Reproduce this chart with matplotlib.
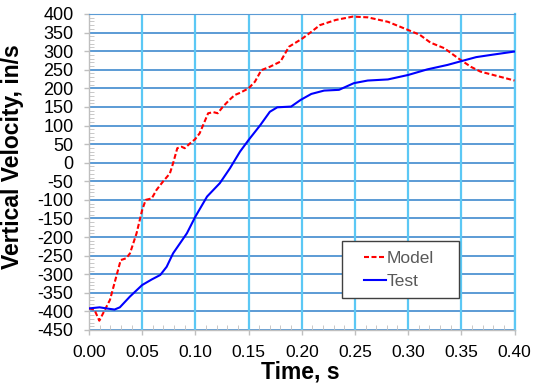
import matplotlib
matplotlib.use("Agg")
import matplotlib.pyplot as plt
from matplotlib.ticker import MultipleLocator
from matplotlib.patches import Rectangle

plt.rcParams['font.family'] = ['Liberation Sans', 'DejaVu Sans']

model_t = [0.000, 0.005, 0.0097, 0.0197, 0.0298, 0.035, 0.0385, 0.0447, 0.050, 0.0533, 0.059,
           0.0635, 0.0695, 0.076, 0.079, 0.083, 0.087, 0.090, 0.095, 0.0997, 0.104, 0.108,
           0.112, 0.117, 0.121, 0.126, 0.132, 0.137, 0.142, 0.150, 0.156, 0.162, 0.170,
           0.180, 0.188, 0.196, 0.201, 0.209, 0.217, 0.232, 0.248, 0.262, 0.281, 0.300,
           0.311, 0.321, 0.334, 0.347, 0.359, 0.368, 0.384, 0.400]
model_v = [-392, -395, -425, -369, -262, -257, -244, -190, -127, -100, -96,
           -73, -51, -29, -2, 39, 43, 39, 52, 63, 79, 106,
           133, 136, 133, 151, 169, 182, 188, 200, 218, 249, 258,
           272, 312, 326, 335, 352, 370, 384, 393, 391, 379, 357,
           344, 323, 308, 281, 258, 245, 233, 221]

test_t = [0.000, 0.010, 0.0165, 0.024, 0.029, 0.0385, 0.050, 0.059, 0.067, 0.073, 0.079,
          0.092, 0.100, 0.111, 0.123, 0.1325, 0.142, 0.150, 0.161, 0.170, 0.177, 0.190,
          0.199, 0.209, 0.221, 0.235, 0.249, 0.262, 0.281, 0.300, 0.318, 0.337, 0.351,
          0.364, 0.378, 0.400]
test_v = [-392, -389, -392, -395, -389, -360, -329, -314, -302, -280, -244,
          -190, -145, -91, -55, -15, 30, 61, 101, 137, 149, 151,
          169, 185, 194, 196, 214, 221, 224, 236, 251, 263, 274,
          284, 290, 299]

x_ticks = [0.00, 0.05, 0.10, 0.15, 0.20, 0.25, 0.30, 0.35, 0.40]
y_ticks = list(range(-450, 401, 50))

fig = plt.figure(figsize=(5.42, 3.87), dpi=100)
ax = fig.add_axes([89/542, 1 - 330/387, (514.5-89)/542, (330-14)/387])

hcol = '#5b9bd5'
vcol = '#5bc8f5'
for y in y_ticks:
    ax.axhline(y, color=hcol, lw=1.4, zorder=1)
for x in x_ticks[1:]:
    ax.axvline(x, color=vcol, lw=1.6, zorder=1)

ax.plot(model_t, model_v, color='#ff0000', lw=1.5, ls=(0, (2.4, 1.2)), label='Model', zorder=3)
ax.plot(test_t, test_v, color='#0000ff', lw=1.5, label='Test', zorder=3)

ax.set_xlim(0, 0.40)
ax.set_ylim(-450, 400)
ax.set_xticks(x_ticks)
ax.set_xticklabels([f'{v:.2f}' for v in x_ticks])
ax.set_yticks(y_ticks)
ax.set_yticklabels([str(v) for v in y_ticks])
ax.xaxis.set_minor_locator(MultipleLocator(0.01))
ax.yaxis.set_minor_locator(MultipleLocator(10))

for s in ['left', 'bottom']:
    ax.spines[s].set_color('#bfbfbf')
    ax.spines[s].set_linewidth(1.0)
ax.spines['top'].set_color(hcol)
ax.spines['right'].set_color(vcol)
ax.spines['right'].set_linewidth(1.6)

ax.tick_params(axis='both', which='major', color='#bfbfbf', length=3.6,
               direction='out', width=1)
ax.tick_params(axis='x', which='major', labelsize=12.5, pad=7)
ax.tick_params(axis='y', which='major', labelsize=13, pad=7.5)
ax.tick_params(axis='both', which='minor', direction='in', length=3.5, color='#bfbfbf')

ax.set_xlabel('Time, s', fontsize=16.5, fontweight='bold')
ax.xaxis.set_label_coords(0.496, -0.096)
ax.set_ylabel('Vertical Velocity, in/s', fontsize=16.5, fontweight='bold')
ax.yaxis.set_label_coords(-0.153, 0.55)

# legend frame
ax.add_patch(Rectangle((0.594, 0.102), 0.2757, 0.1794, transform=ax.transAxes,
                       facecolor='white', edgecolor='#404040', lw=1.0, zorder=4))
leg = ax.legend(loc='center left', bbox_to_anchor=(0.647, 0.190),
                fontsize=12.5, frameon=False, handlelength=1.27,
                handletextpad=0.0, borderpad=0.0, labelspacing=0.5, borderaxespad=0)
for t in leg.get_texts():
    t.set_color('#595959')
leg.set_zorder(5)

fig.savefig('out.png', dpi=100)
